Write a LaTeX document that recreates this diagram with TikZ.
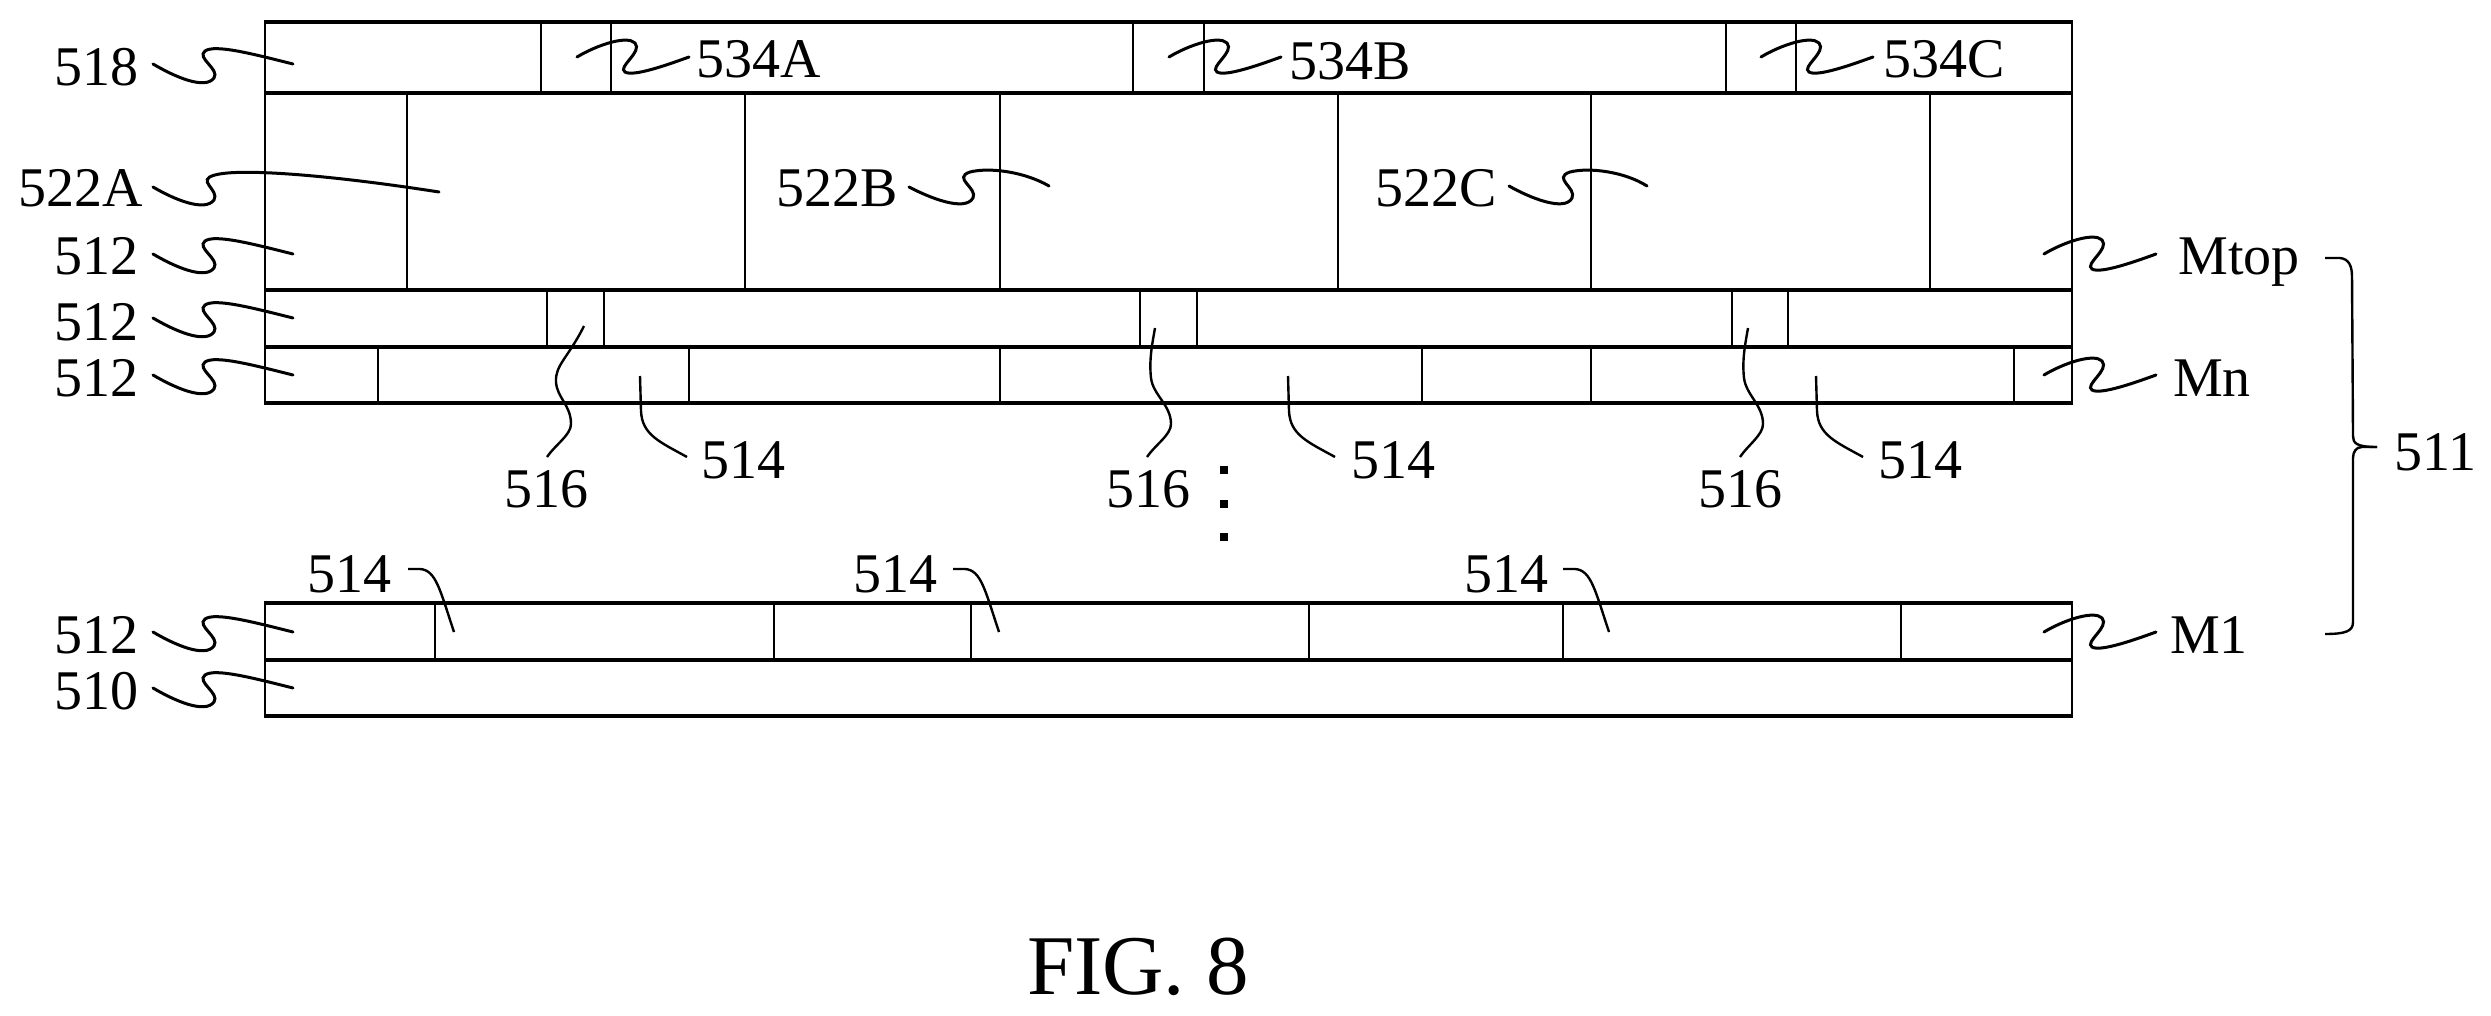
\documentclass[tikz,border=0pt]{standalone}
\usepackage{fontspec}
\setmainfont{Liberation Serif}
\tikzset{
  x=1pt,y=-1pt,
  hline/.style={line width=4pt,black},
  vline/.style={line width=2.6pt,black},
  lead/.style={line width=3pt,black,line cap=round},
  thinlead/.style={line width=2.4pt,black},
  lab/.style={inner sep=0pt,anchor=base,font=\fontsize{56}{60}\selectfont},
  figlab/.style={inner sep=0pt,anchor=base,font=\fontsize{85}{90}\selectfont},
}
\newcommand{\sqL}[1]{\begin{scope}[shift={(#1)}]\draw[lead] (0,0) .. controls (22,13) and (52,26) .. (61,14) .. controls (67,5) and (43,-6) .. (52,-13) .. controls (62,-20) and (100,-10) .. (140,0);\end{scope}}
\newcommand{\sqR}[1]{\begin{scope}[shift={(#1)}]\draw[lead] (0,0) .. controls (20,-12) and (50,-22) .. (58,-14) .. controls (66,-5) and (40,10) .. (48,15) .. controls (56,20) and (90,8) .. (112,0);\end{scope}}
\newcommand{\vsegs}[3]{\foreach \xx in {#3} \draw[vline] (\xx,#1) -- (\xx,#2);}
\begin{document}
\begin{tikzpicture}
\useasboundingbox (0,0) rectangle (2491,1016);
% layers
\foreach \yy in {22,93,290,347,403} \draw[hline] (265,\yy) -- (2072,\yy);
\foreach \yy in {603,660,716} \draw[hline] (265,\yy) -- (2072,\yy);
\draw[vline] (265,20) -- (265,405);
\draw[vline] (2072,20) -- (2072,405);
\draw[vline] (265,601) -- (265,718);
\draw[vline] (2072,601) -- (2072,718);
\vsegs{22}{93}{541,611,1133,1204,1726,1796}
\vsegs{93}{290}{407,745,1000,1338,1591,1930}
\vsegs{290}{347}{547,604,1140,1197,1732,1788}
\vsegs{347}{403}{378,689,1000,1422,1591,2014}
\vsegs{603}{660}{435,774,971,1309,1563,1901}
% labels
\node[lab] (l518) at (96,86) {518};
\node[lab] (l522A) at (81,207) {522A};
\node[lab] (l512a) at (96,275) {512};
\node[lab] (l512b) at (96,340) {512};
\node[lab] (l512c) at (96,396) {512};
\node[lab] (l512d) at (96,653) {512};
\node[lab] (l510) at (96,709) {510};
\node[lab] (l534A) at (759,78) {534A};
\node[lab] (l534B) at (1350,80) {534B};
\node[lab] (l534C) at (1944,78) {534C};
\node[lab] (l522B) at (837,207) {522B};
\node[lab] (l522C) at (1436,207) {522C};
\node[lab] (lMtop) at (2239,275) {Mtop};
\node[lab] (lMn) at (2212,396) {Mn};
\node[lab] (lM1) at (2209,653) {M1};
\node[lab] (l511) at (2435,470) {511};
\node[lab] (l516a) at (546,507) {516};
\node[lab] (l516b) at (1148,507) {516};
\node[lab] (l516c) at (1740,507) {516};
\node[lab] (l514a) at (743,478) {514};
\node[lab] (l514b) at (1393,478) {514};
\node[lab] (l514c) at (1920,478) {514};
\node[lab] (l514d) at (349,592) {514};
\node[lab] (l514e) at (895,592) {514};
\node[lab] (l514f) at (1506,592) {514};
\node[figlab] (fig) at (1138,994) {FIG. 8};
% left squiggles
\coordinate (s518) at (153,64);
\coordinate (s512a) at (153,254);
\coordinate (s512b) at (153,318);
\coordinate (s512c) at (153,375);
\coordinate (s512d) at (153,632);
\coordinate (s510) at (153,688);
\foreach \nn in {s518,s512a,s512b,s512c,s512d,s510} {\sqL{\nn}}
% right squiggles
\coordinate (s534A) at (577,57);
\coordinate (s534B) at (1169,57);
\coordinate (s534C) at (1761,57);
\coordinate (sMtop) at (2044,254);
\coordinate (sMn) at (2044,375);
\coordinate (sM1) at (2044,632);
\foreach \nn in {s534A,s534B,s534C,sMtop,sMn,sM1} {\sqR{\nn}}
% 522 leaders
\coordinate (a522A) at (153,187); \coordinate (b522A) at (439,192);
\draw[lead] (a522A) .. controls (175,200) and (205,212) .. (214,200) .. controls (220,190) and (195,180) .. (215,175) .. controls (240,168) and (330,175) .. (b522A);
\coordinate (a522B) at (909,187); \coordinate (b522B) at (1049,186);
\draw[lead] (a522B) .. controls (930,198) and (965,212) .. (973,198) .. controls (978,188) and (952,178) .. (970,172) .. controls (990,167) and (1025,172) .. (b522B);
\coordinate (a522C) at (1509,186); \coordinate (b522C) at (1647,186);
\draw[lead] (a522C) .. controls (1530,198) and (1565,212) .. (1572,198) .. controls (1577,188) and (1552,178) .. (1570,172) .. controls (1590,167) and (1625,172) .. (b522C);
% 516 leaders
\coordinate (a516a) at (584,326); \coordinate (b516a) at (547,457);
\draw[thinlead] (a516a) .. controls (568,358) and (555,365) .. (556,382) .. controls (557,398) and (571,405) .. (571,424) .. controls (571,435) and (555,445) .. (b516a);
\coordinate (a516b) at (1155,328); \coordinate (b516b) at (1147,457);
\draw[thinlead] (a516b) .. controls (1152,345) and (1149,360) .. (1151,378) .. controls (1153,395) and (1171,405) .. (1171,424) .. controls (1171,435) and (1155,445) .. (b516b);
\coordinate (a516c) at (1748,328); \coordinate (b516c) at (1740,457);
\draw[thinlead] (a516c) .. controls (1745,345) and (1742,360) .. (1744,378) .. controls (1746,395) and (1763,405) .. (1763,424) .. controls (1763,435) and (1748,445) .. (b516c);
% 514 leaders
\foreach \xx/\nn in {640/a,1288/b,1816/c} {
  \coordinate (a514\nn) at (\xx,376);
  \coordinate (b514\nn) at (\xx+47,457);
  \draw[thinlead] (a514\nn) -- (\xx+1,411) .. controls (\xx+2,435) and (\xx+20,442) .. (b514\nn);
}
\foreach \xx/\nn in {408/d,953/e,1563/f} {
  \coordinate (a514\nn) at (\xx,569);
  \coordinate (b514\nn) at (\xx+46,632);
  \draw[thinlead] (a514\nn) -- (\xx+12,569) .. controls (\xx+28,570) and (\xx+32,590) .. (b514\nn);
}
% dots
\foreach \yy in {470,504,537} \fill[black] (1220,\yy-4) rectangle (1228,\yy+4);
% brace
\coordinate (bt) at (2325,258); \coordinate (bb) at (2325,634); \coordinate (bm) at (2377,447);
\draw[thinlead] (bt) -- (2340,258) .. controls (2349,259) and (2352,266) .. (2352,277) -- (2353,436) .. controls (2353,443) and (2356,447) .. (bm);
\draw[thinlead] (bm) -- (2362,447) .. controls (2356,447) and (2353,452) .. (2353,458) -- (2353,622) .. controls (2353,631) and (2346,634) .. (bb);
\end{tikzpicture}
\end{document}
